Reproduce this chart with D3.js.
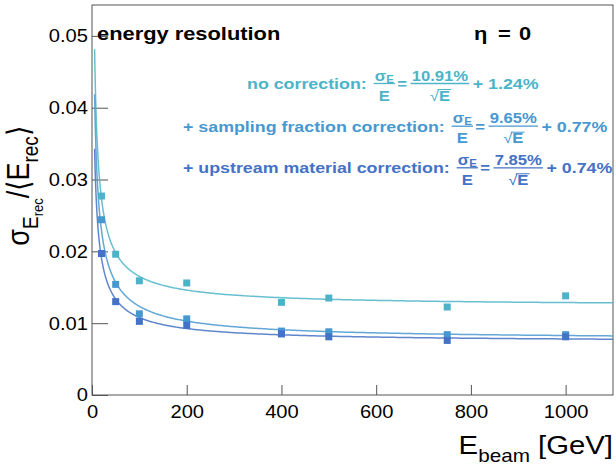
<!DOCTYPE html>
<html>
<head>
<meta charset="utf-8">
<script src="https://cdn.jsdelivr.net/npm/d3@7"></script>
<style>
  body { margin: 0; background: #fff; }
  svg { display: block; font-family: "Liberation Sans", Arial, Helvetica, sans-serif; }
</style>
</head>
<body>
<div class="canvas"></div>
<script>
// beam energies in GeV
const energies = [20, 50, 100, 200, 400, 500, 750, 1000]

// sigma_E / <E_rec> per correction step
const noCorrection = [0.0277, 0.0196, 0.0159, 0.0156, 0.0129, 0.0135, 0.01225, 0.0138]
const samplingCorrection = [0.0244, 0.0154, 0.0113, 0.0106, 0.0089, 0.0088, 0.0084, 0.0084]
const upstreamCorrection = [0.0197, 0.0130, 0.01025, 0.0097, 0.0085, 0.0081, 0.0076, 0.0081]

// statistical errors
const noCorrectionErr = [0.0004, 0.0004, 0.0003, 0.0004, 0.0002, 0.0002, 0.0002, 0.0003]
const samplingCorrectionErr = [0.0003, 0.0003, 0.0003, 0.0004, 0.0002, 0.0004, 0.0003, 0.0002]
const upstreamCorrectionErr = [0.0003, 0.0003, 0.0003, 0.0003, 0.0002, 0.0002, 0.0003, 0.0002]

// fit results: sigma/E = a/sqrt(E) (+) b, in %
const stochasticTerms = [10.91, 9.65, 7.85]
const constantTerms = [1.24, 0.77, 0.74]
const fitRange = [5.5, 1100]

const seriesLabels = ['no correction:', '+ sampling fraction correction:', '+ upstream material correction:']
const colors = ['#4cb4c9', '#4898d0', '#4472c6']

const xTicks = [0, 200, 400, 600, 800, 1000]
const yTicks = [0, 0.01, 0.02, 0.03, 0.04, 0.05]

const width = 616, height = 465
const margin = {top: 5, right: 3, bottom: 70, left: 92}
const SX = 1.15 // the original picture is a bit wide

const svg = d3.select('.canvas')
  .append('svg')
  .attr('width', width)
  .attr('height', height)

const x = d3.scaleLinear().domain([0, 1100]).range([margin.left, width - margin.right])
const y = d3.scaleLinear().domain([0, 0.0543]).range([height - margin.bottom, margin.top])

// axes, ticks pointing into the frame
const xAxis = svg.append('g')
  .attr('transform', `translate(0, ${height - margin.bottom})`)
xAxis.call(d3.axisBottom(x).tickValues(d3.range(0, 1101, 50)).tickSize(-5).tickFormat(''))
xAxis.call(d3.axisBottom(x).tickValues(xTicks).tickSize(-10).tickFormat(d3.format('d')))
const yAxis = svg.append('g')
  .attr('transform', `translate(${margin.left}, 0)`)
yAxis.call(d3.axisLeft(y).tickValues(d3.range(0, 0.0541, 0.002)).tickSize(-8).tickFormat(''))
yAxis.call(d3.axisLeft(y).tickValues(yTicks).tickSize(-16)
  .tickFormat(v => v === 0 ? '0' : d3.format('.2f')(v)))

svg.selectAll('.domain').remove()
svg.selectAll('.tick line').attr('stroke', '#555')
xAxis.selectAll('.tick text')
  .attr('y', 0).attr('dy', 0)
  .attr('transform', `translate(0, 23) scale(${SX}, 1)`)
  .attr('font-size', 17.5).attr('fill', '#000')
yAxis.selectAll('.tick text')
  .attr('x', 0).attr('dy', '0.34em')
  .attr('transform', `translate(-4, 0) scale(${SX}, 1)`)
  .attr('font-size', 17.5).attr('fill', '#000')
svg.selectAll('.tick text').attr('font-family', null)

svg.append('rect')
  .attr('x', margin.left).attr('y', margin.top)
  .attr('width', width - margin.left - margin.right)
  .attr('height', height - margin.top - margin.bottom)
  .attr('fill', 'none').attr('stroke', '#555')

// fit curves
svg.append('clipPath').attr('id', 'frame')
  .append('rect')
  .attr('x', margin.left).attr('y', margin.top)
  .attr('width', width - margin.left - margin.right)
  .attr('height', height - margin.top - margin.bottom)

const fitEnergies = d3.range(0, 400).map(i =>
  fitRange[0] * Math.pow(fitRange[1] / fitRange[0], i / 399))
const line = d3.line().x(d => x(d[0])).y(d => y(d[1]))

stochasticTerms.forEach((a, i) => {
  const b = constantTerms[i]
  const pts = fitEnergies.map(e => [e, Math.hypot(a / 100 / Math.sqrt(e), b / 100)])
  svg.append('path')
    .attr('clip-path', 'url(#frame)')
    .attr('d', line(pts))
    .attr('fill', 'none')
    .attr('stroke', colors[i])
    .attr('stroke-opacity', 0.85)
    .attr('stroke-width', 1.5)
})

// points
const series = [
  {values: noCorrection, errors: noCorrectionErr},
  {values: samplingCorrection, errors: samplingCorrectionErr},
  {values: upstreamCorrection, errors: upstreamCorrectionErr}
]
series.forEach(({values, errors}, i) => {
  const data = energies.map((e, k) => ({e, v: values[k], err: errors[k]}))
  const g = svg.append('g')
  g.selectAll('line').data(data).enter().append('line')
    .attr('x1', d => x(d.e)).attr('x2', d => x(d.e))
    .attr('y1', d => y(d.v - d.err)).attr('y2', d => y(d.v + d.err))
    .attr('stroke', colors[i]).attr('stroke-width', 1.2)
  g.selectAll('rect').data(data).enter().append('rect')
    .attr('x', d => x(d.e) - 3.5).attr('y', d => y(d.v) - 3.5)
    .attr('width', 7).attr('height', 7)
    .attr('fill', colors[i])
})

// titles
svg.append('text')
  .attr('transform', `translate(97, 40) scale(${SX}, 1)`)
  .attr('font-size', 19).attr('font-weight', 'bold')
  .text('energy resolution')
;[['η', 474], ['=', 498], ['0', 519]].forEach(([s, px]) =>
  svg.append('text')
    .attr('transform', `translate(${px}, 40) scale(${SX}, 1)`)
    .attr('font-size', 19).attr('font-weight', 'bold')
    .text(s))

const xTitle = svg.append('text')
  .attr('transform', `translate(613, 454) scale(${SX}, 1)`)
  .attr('text-anchor', 'end').attr('font-size', 25.5)
xTitle.append('tspan').text('E')
xTitle.append('tspan').attr('font-size', 18).attr('dy', 8).text('beam')
xTitle.append('tspan').attr('dy', -8).text(' [GeV]')

const yTitle = svg.append('text')
  .attr('transform', `translate(29, 126) rotate(-90) scale(1, ${SX})`)
  .attr('text-anchor', 'end').attr('font-size', 27)
yTitle.append('tspan').text('σ')
yTitle.append('tspan').attr('font-size', 19).attr('dy', 8).text('E')
yTitle.append('tspan').attr('font-size', 13).attr('dy', 4).text('rec')
yTitle.append('tspan').attr('dy', -12).text('/⟨E')
yTitle.append('tspan').attr('font-size', 19).attr('dy', 8).text('rec')
yTitle.append('tspan').attr('dy', -8).text('⟩')

// fit results in formula form
const legendX = [247, 183, 183]
const legendY = [89, 131.7, 173.3]
const fracSize = 14.5

function fraction(g, cx, num, den, color) {
  const n = g.append('text').attr('font-size', fracSize).attr('y', -8.5)
  num(n)
  const d = g.append('text').attr('font-size', fracSize).attr('y', 11.5)
  den(d)
  const nw = n.node().getComputedTextLength()
  const dw = d.node().getComputedTextLength()
  const bw = Math.max(nw, dw) + 2
  n.attr('x', cx + (bw - nw) / 2)
  d.attr('x', cx + (bw - dw) / 2)
  g.append('line')
    .attr('x1', cx).attr('x2', cx + bw)
    .attr('y1', -5.5).attr('y2', -5.5)
    .attr('stroke', color).attr('stroke-width', 1.3)
  return {width: bw, den: d, dx: cx + (bw - dw) / 2}
}

seriesLabels.forEach((label, i) => {
  const color = colors[i]
  const g = svg.append('g')
    .attr('transform', `translate(${legendX[i]}, ${legendY[i]}) scale(${SX}, 1)`)
    .attr('fill', color).attr('font-weight', 'bold')
  const t = g.append('text').attr('font-size', 15.5).text(label)
  let cx = t.node().getComputedTextLength() + 6

  const f1 = fraction(g, cx, n => {
    n.append('tspan').text('σ')
    n.append('tspan').attr('font-size', 10).attr('dy', 2).text('E')
  }, d => d.text('E'), color)
  cx += f1.width + 2

  const eq = g.append('text').attr('font-size', fracSize).attr('x', cx).text('=')
  cx += eq.node().getComputedTextLength() + 3

  const f2 = fraction(g, cx, n => n.text(`${stochasticTerms[i].toFixed(2)}%`), d => {
    d.append('tspan').attr('font-weight', 'normal').text('√')
    d.append('tspan').text('E')
  }, color)
  // overline of the root
  const rootW = f2.den.node().getComputedTextLength()
  g.append('line')
    .attr('x1', f2.dx + rootW * 0.38).attr('x2', f2.dx + rootW + 1)
    .attr('y1', 0.5).attr('y2', 0.5)
    .attr('stroke', color).attr('stroke-width', 1)
  cx += f2.width + 3

  g.append('text').attr('font-size', 15.5).attr('x', cx)
    .text(`+ ${constantTerms[i].toFixed(2)}%`)
})
</script>
</body>
</html>
